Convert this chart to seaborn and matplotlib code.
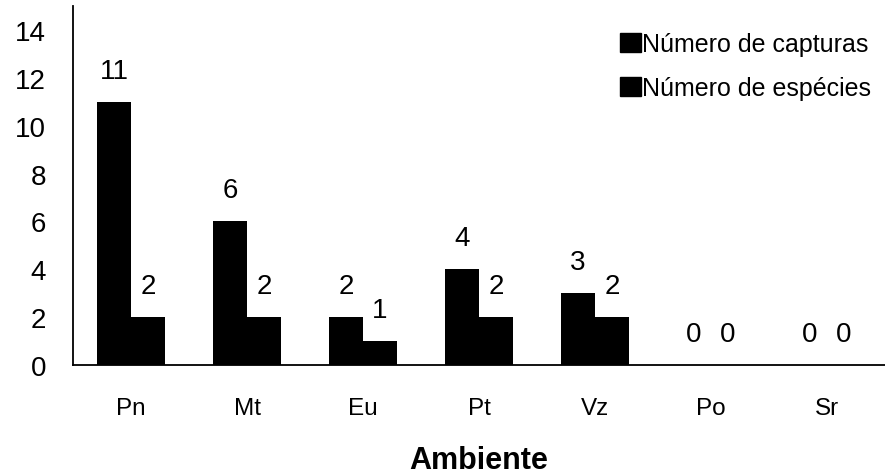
import matplotlib
matplotlib.use("Agg")
import matplotlib.pyplot as plt
import seaborn as sns
import pandas as pd
from matplotlib.patches import Patch

categories = ["Pn", "Mt", "Eu", "Pt", "Vz", "Po", "Sr"]
capturas = [11, 6, 2, 4, 3, 0, 0]
especies = [2, 2, 1, 2, 2, 0, 0]
series_names = ["Número de capturas", "Número de espécies"]
yticks = [0, 2, 4, 6, 8, 10, 12, 14]

df = pd.DataFrame({
    "Ambiente": categories * 2,
    "valor": capturas + especies,
    "serie": [series_names[0]] * len(categories) + [series_names[1]] * len(categories),
})

sns.set_theme(style="white")
plt.rcParams["font.family"] = ["Liberation Sans", "DejaVu Sans"]
plt.rcParams["text.color"] = "black"
plt.rcParams["axes.labelcolor"] = "black"
plt.rcParams["xtick.color"] = "black"
plt.rcParams["ytick.color"] = "black"

fig = plt.figure(figsize=(8.85, 4.77), dpi=100)
ax = fig.add_axes([73 / 885, (477 - 366) / 477, 1 - 73 / 885, (366 - 7) / 477])

sns.barplot(data=df, x="Ambiente", y="valor", hue="serie", order=categories,
            hue_order=series_names, palette=["black", "black"], width=0.59,
            saturation=1, ax=ax, legend=False, edgecolor="black", linewidth=0)

for cont in ax.containers:
    ax.bar_label(cont, labels=[f"{v:g}" for v in cont.datavalues],
                 padding=13, fontsize=20, color="black")

ax.set_ylim(0, 15)
ax.set_xlim(-0.5, 6.5)
ax.set_yticks(yticks)
ax.set_yticklabels([str(t) for t in yticks], fontsize=20)
ax.tick_params(axis="y", direction="out", length=7.5, width=1.3, color="black",
               labelcolor="black", pad=12)
ax.tick_params(axis="x", length=0, pad=23, labelsize=17.5, labelcolor="black")
ax.set_ylabel("")
ax.set_xlabel("Ambiente", fontsize=22, fontweight="bold", labelpad=19, color="black")

for s in ["top", "right"]:
    ax.spines[s].set_visible(False)
for s in ["left", "bottom"]:
    ax.spines[s].set_visible(True)
    ax.spines[s].set_color("black")
    ax.spines[s].set_linewidth(1.3)

handles = [Patch(facecolor="black", edgecolor="black") for _ in series_names]
leg = ax.legend(handles, series_names, loc="upper right", bbox_to_anchor=(1.0, 0.965),
                frameon=False, fontsize=18, handlelength=0.85, handleheight=0.78,
                handletextpad=0.05, labelspacing=0.8, borderaxespad=0.15)
for t in leg.get_texts():
    t.set_color("black")

fig.savefig("out.png", dpi=100)
